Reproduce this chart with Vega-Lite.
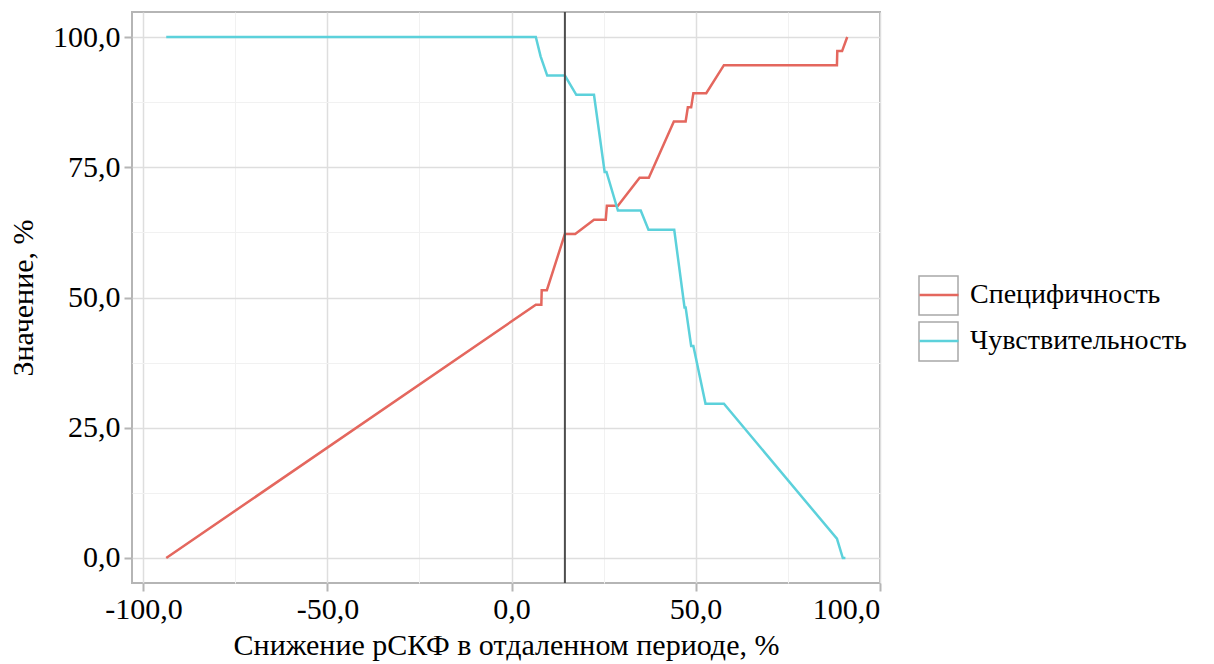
{
  "$schema": "https://vega.github.io/schema/vega-lite/v6.json",
  "autosize": "none",
  "width": 748,
  "height": 571,
  "padding": {"left": 132, "top": 12, "right": 334, "bottom": 81},
  "background": "white",
  "config": {
    "font": "Liberation Serif",
    "locale": {"number": {"decimal": ",", "thousands": "\u00a0", "grouping": [3], "currency": ["", ""], "minus": "-"}},
    "view": {"stroke": "#b5b5b5", "strokeWidth": 2},
    "axis": {
      "domain": false,
      "labelFont": "Liberation Serif",
      "labelFontSize": 30,
      "labelColor": "#000000",
      "titleFont": "Liberation Serif",
      "titleFontSize": 30,
      "titleFontWeight": "normal",
      "titleColor": "#000000",
      "tickColor": "#b5b5b5",
      "tickWidth": 2,
      "tickSize": 8
    },
    "legend": {
      "labelFont": "Liberation Serif",
      "labelFontSize": 28,
      "labelColor": "#000000",
      "labelLimit": 0
    }
  },
  "datasets": {
    "curves": [
      {"x": -93.8, "value": 0, "series": "Специфичность"},
      {"x": 6.6, "value": 48.6, "series": "Специфичность"},
      {"x": 8.1, "value": 48.6, "series": "Специфичность"},
      {"x": 8.2, "value": 51.4, "series": "Специфичность"},
      {"x": 9.6, "value": 51.4, "series": "Специфичность"},
      {"x": 14.5, "value": 62.2, "series": "Специфичность"},
      {"x": 17.3, "value": 62.2, "series": "Специфичность"},
      {"x": 22.4, "value": 64.9, "series": "Специфичность"},
      {"x": 25.6, "value": 64.9, "series": "Специфичность"},
      {"x": 25.9, "value": 67.6, "series": "Специфичность"},
      {"x": 28.9, "value": 67.6, "series": "Специфичность"},
      {"x": 34.8, "value": 73.0, "series": "Специфичность"},
      {"x": 37.3, "value": 73.0, "series": "Специфичность"},
      {"x": 44.1, "value": 83.8, "series": "Специфичность"},
      {"x": 47.3, "value": 83.8, "series": "Специфичность"},
      {"x": 47.9, "value": 86.5, "series": "Специфичность"},
      {"x": 48.8, "value": 86.5, "series": "Специфичность"},
      {"x": 49.4, "value": 89.2, "series": "Специфичность"},
      {"x": 52.9, "value": 89.2, "series": "Специфичность"},
      {"x": 57.7, "value": 94.6, "series": "Специфичность"},
      {"x": 88.4, "value": 94.6, "series": "Специфичность"},
      {"x": 88.5, "value": 97.3, "series": "Специфичность"},
      {"x": 89.8, "value": 97.3, "series": "Специфичность"},
      {"x": 91.2, "value": 100, "series": "Специфичность"},
      {"x": -93.8, "value": 100, "series": "Чувствительность"},
      {"x": 6.6, "value": 100, "series": "Чувствительность"},
      {"x": 7.9, "value": 96.3, "series": "Чувствительность"},
      {"x": 9.7, "value": 92.6, "series": "Чувствительность"},
      {"x": 14.5, "value": 92.6, "series": "Чувствительность"},
      {"x": 17.6, "value": 88.9, "series": "Чувствительность"},
      {"x": 22.4, "value": 88.9, "series": "Чувствительность"},
      {"x": 25.3, "value": 74.1, "series": "Чувствительность"},
      {"x": 25.8, "value": 74.1, "series": "Чувствительность"},
      {"x": 28.9, "value": 66.7, "series": "Чувствительность"},
      {"x": 35.1, "value": 66.7, "series": "Чувствительность"},
      {"x": 37.2, "value": 63.0, "series": "Чувствительность"},
      {"x": 44.2, "value": 63.0, "series": "Чувствительность"},
      {"x": 47.0, "value": 48.1, "series": "Чувствительность"},
      {"x": 47.3, "value": 48.1, "series": "Чувствительность"},
      {"x": 48.8, "value": 40.7, "series": "Чувствительность"},
      {"x": 49.4, "value": 40.7, "series": "Чувствительность"},
      {"x": 52.7, "value": 29.6, "series": "Чувствительность"},
      {"x": 57.7, "value": 29.6, "series": "Чувствительность"},
      {"x": 88.4, "value": 3.7, "series": "Чувствительность"},
      {"x": 90.0, "value": 0, "series": "Чувствительность"},
      {"x": 90.7, "value": 0, "series": "Чувствительность"}
    ],
    "cutoff": [{"x": 14.5}],
    "keys": [{"key": "box1"}, {"key": "box2"}]
  },
  "layer": [
    {
      "data": {"name": "keys"},
      "mark": {"type": "point", "shape": "square", "filled": false, "opacity": 0},
      "encoding": {
        "shape": {
          "field": "key", "type": "nominal",
          "scale": {"domain": ["box1", "box2"], "range": ["square", "square"]},
          "legend": {
            "title": null,
            "orient": "none",
            "legendX": 786,
            "legendY": 263,
            "symbolSize": 1521,
            "symbolStrokeColor": "#a8a8a8",
            "symbolFillColor": "transparent",
            "symbolStrokeWidth": 1.5,
            "symbolOpacity": 1,
            "rowPadding": 1,
            "labelOffset": 10,
            "labelFontSize": 28,
            "labelExpr": "''"
          }
        }
      }
    },
    {
      "data": {"name": "curves"},
      "mark": {"type": "line", "strokeWidth": 2.5, "interpolate": "linear"},
      "encoding": {
        "x": {
          "field": "x", "type": "quantitative",
          "scale": {"domain": [-103.1, 100.1], "nice": false, "zero": false},
          "axis": {
            "values": [-100, -75, -50, -25, 0, 25, 50, 75, 100],
            "format": ".1f",
            "labelExpr": "datum.value % 50 === 0 ? datum.label : ''",
            "tickOpacity": {"condition": {"test": "datum.value % 50 !== 0", "value": 0}, "value": 1},
            "gridColor": {"condition": {"test": "datum.value % 50 !== 0", "value": "#f1f1f1"}, "value": "#dedede"},
            "gridWidth": {"condition": {"test": "datum.value % 50 !== 0", "value": 1}, "value": 1.5},
            "labelPadding": 3,
            "titlePadding": 6,
            "title": "Снижение рСКФ в отдаленном периоде, %"
          }
        },
        "y": {
          "field": "value", "type": "quantitative",
          "scale": {"domain": [-4.8, 104.8], "nice": false, "zero": false},
          "axis": {
            "values": [0, 12.5, 25, 37.5, 50, 62.5, 75, 87.5, 100],
            "format": ".1f",
            "labelExpr": "datum.value % 25 === 0 ? datum.label : ''",
            "tickOpacity": {"condition": {"test": "datum.value % 25 !== 0", "value": 0}, "value": 1},
            "gridColor": {"condition": {"test": "datum.value % 25 !== 0", "value": "#f1f1f1"}, "value": "#dedede"},
            "gridWidth": {"condition": {"test": "datum.value % 25 !== 0", "value": 1}, "value": 1.5},
            "labelPadding": 4,
            "titlePadding": 14,
            "title": "Значение, %"
          }
        },
        "color": {
          "field": "series", "type": "nominal",
          "scale": {"domain": ["Специфичность", "Чувствительность"], "range": ["#E4675E", "#5CD1DB"]},
          "legend": {
            "title": null,
            "orient": "none",
            "legendX": 786,
            "legendY": 262,
            "symbolType": "stroke",
            "symbolSize": 1521,
            "symbolStrokeWidth": 2.5,
            "rowPadding": 11,
            "labelOffset": 10,
            "labelFontSize": 28
          }
        }
      }
    },
    {
      "data": {"name": "cutoff"},
      "mark": {"type": "rule", "color": "#4d4d4d", "strokeWidth": 2},
      "encoding": {
        "x": {"field": "x", "type": "quantitative"}
      }
    }
  ]
}
